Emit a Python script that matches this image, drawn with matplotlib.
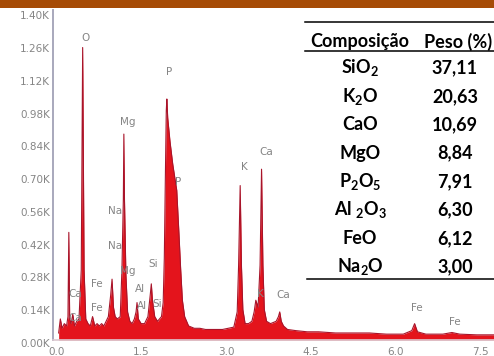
import matplotlib
matplotlib.use("Agg")
import matplotlib.pyplot as plt
from matplotlib.patches import Rectangle
from matplotlib.lines import Line2D

# espectro EDS (energia em keV, contagens em milhares)
energy_kev = [0.10, 0.13, 0.16, 0.20, 0.24, 0.265, 0.28, 0.295, 0.32, 0.35, 0.38,
              0.42, 0.46, 0.50, 0.525, 0.55, 0.58, 0.62, 0.66, 0.70, 0.74, 0.78,
              0.82, 0.86, 0.90, 0.94, 0.98, 1.02, 1.045, 1.07, 1.10, 1.14, 1.19,
              1.22, 1.245, 1.254, 1.265, 1.29, 1.32, 1.36, 1.40, 1.44, 1.47,
              1.487, 1.51, 1.56, 1.62, 1.68, 1.72, 1.74, 1.76, 1.80, 1.85, 1.92,
              1.95, 1.97, 1.99, 2.005, 2.015, 2.03, 2.07, 2.12, 2.19, 2.23, 2.26,
              2.29, 2.33, 2.40, 2.50, 2.60, 2.70, 2.80, 2.90, 3.00, 3.10, 3.20,
              3.26, 3.285, 3.313, 3.335, 3.36, 3.40, 3.46, 3.52, 3.56, 3.59,
              3.63, 3.665, 3.691, 3.715, 3.74, 3.78, 3.85, 3.95, 3.99, 4.013,
              4.04, 4.08, 4.15, 4.30, 4.50, 4.70, 5.00, 5.30, 5.60, 5.90, 6.20,
              6.35, 6.40, 6.45, 6.60, 6.90, 7.06, 7.20, 7.50, 7.85]
counts_k = [0.03, 0.09, 0.05, 0.07, 0.06, 0.10, 0.46, 0.09, 0.07, 0.11, 0.06,
            0.08, 0.09, 0.30, 1.25, 0.30, 0.09, 0.07, 0.06, 0.10, 0.06, 0.07,
            0.06, 0.07, 0.06, 0.08, 0.10, 0.19, 0.26, 0.14, 0.10, 0.09, 0.10,
            0.30, 0.60, 0.88, 0.60, 0.28, 0.12, 0.08, 0.07, 0.09, 0.12,
            0.16, 0.09, 0.07, 0.07, 0.10, 0.19, 0.24, 0.17, 0.10, 0.08, 0.10,
            0.16, 0.35, 0.72, 0.98, 1.03, 0.95, 0.85, 0.75, 0.64, 0.45, 0.30,
            0.17, 0.10, 0.06, 0.05, 0.05, 0.045, 0.045, 0.045, 0.045, 0.05, 0.055,
            0.12, 0.32, 0.66, 0.32, 0.13, 0.07, 0.07, 0.08, 0.12, 0.17,
            0.14, 0.32, 0.73, 0.32, 0.13, 0.08, 0.07, 0.08, 0.10, 0.12,
            0.08, 0.06, 0.045, 0.04, 0.035, 0.035, 0.03, 0.03, 0.03, 0.025, 0.025,
            0.04, 0.07, 0.035, 0.025, 0.025, 0.032, 0.025, 0.022, 0.022]

y_ticks = [0.00, 0.14, 0.28, 0.42, 0.56, 0.70, 0.84, 0.98, 1.12, 1.26, 1.40]
x_ticks = [0.0, 1.5, 3.0, 4.5, 6.0, 7.5]

# rótulos dos elementos (texto, keV, contagens)
peak_labels = [("O", 0.584, 1.291), ("Mg", 1.327, 0.932), ("P", 2.053, 1.145),
               ("P", 2.212, 0.675), ("K", 3.381, 0.739), ("Ca", 3.770, 0.803),
               ("Na", 1.097, 0.551), ("Na", 1.097, 0.402), ("Mg", 1.327, 0.295),
               ("Si", 1.770, 0.325), ("Al", 1.540, 0.218), ("Al", 1.575, 0.145),
               ("Si", 1.841, 0.154), ("Ca", 0.389, 0.197), ("Ca", 0.389, 0.094),
               ("Fe", 0.779, 0.239), ("Fe", 0.779, 0.137), ("K", 3.664, 0.197),
               ("Ca", 4.071, 0.192), ("Fe", 6.442, 0.137), ("Fe", 7.115, 0.077)]

# tabela de composição
compounds = ["SiO$_2$", "K$_2$O", "CaO", "MgO", "P$_2$O$_5$", "Al $_2$O$_3$", "FeO", "Na$_2$O"]
weights = [37.11, 20.63, 10.69, 8.84, 7.91, 6.30, 6.12, 3.00]

W, H = 494, 356
PX_KEV = 56.5   # pixels por keV
PX_K = 234.0    # pixels por 1K contagens

plt.rcParams['mathtext.fontset'] = 'custom'
plt.rcParams['mathtext.rm'] = 'Lato:bold'
plt.rcParams['mathtext.it'] = 'Lato:bold'
plt.rcParams['mathtext.bf'] = 'Lato:bold'

fig = plt.figure(figsize=(W / 100, H / 100), dpi=100)
fig.patch.set_facecolor("white")

# faixa marrom no topo
fig.patches.append(Rectangle((0, 1 - 8 / H), 1, 8 / H, transform=fig.transFigure,
                             facecolor="#a64b06", edgecolor="none", zorder=5))

ax = fig.add_axes([53 / W, 16 / H, 441 / W, 330 / H])
ax.set_xlim(0, 441 / PX_KEV)
ax.set_ylim(0, 330 / PX_K)

ax.fill_between(energy_kev, counts_k, color="#e4141c", lw=0)
ax.plot(energy_kev, counts_k, color="#a8142a", lw=0.8)

for s in ["top", "right"]:
    ax.spines[s].set_visible(False)
ax.spines["left"].set_color("#a8a8bc")
ax.spines["left"].set_linewidth(1.4)
ax.spines["bottom"].set_color("#dcc8d0")
ax.spines["bottom"].set_linewidth(1.2)
ax.set_xticks([])
ax.set_yticks([])

gray = "#858585"
for v in y_ticks:
    ax.text(-3 / PX_KEV, v - 4 / PX_K, f"{v:.2f}K", ha="right", va="center",
            fontsize=7.5, color=gray, clip_on=False)
for v in x_ticks:
    ax.text(v + 3.5 / PX_KEV, -7 / PX_K, f"{v:.1f}", ha="center", va="top",
            fontsize=7.5, color=gray, clip_on=False)

for name, e, c in peak_labels:
    ax.text(e, c, name, ha="center", va="center", fontsize=7.5, color=gray)

# tabela
def fx(px):
    return px / W


def fy(py):
    return 1 - py / H


tfont = dict(family=["Lato", "DejaVu Sans"], fontweight="bold", fontsize=13,
             color="black", ha="center", va="center")
fig.text(fx(360), fy(42), "Composição", **tfont)
fig.text(fx(458), fy(42), "Peso (%)", **tfont)
for i, (comp, w) in enumerate(zip(compounds, weights)):
    yy = 68 + 28.4 * i
    fig.text(fx(360), fy(yy), comp, **tfont)
    fig.text(fx(455), fy(yy), f"{w:.2f}".replace(".", ","), **tfont)

for y0, x0 in [(22, 305), (51, 305), (279, 307)]:
    fig.lines.append(Line2D([fx(x0), 1], [fy(y0), fy(y0)], transform=fig.transFigure,
                            color="black", lw=1.1))

fig.savefig("out.png", dpi=100)
